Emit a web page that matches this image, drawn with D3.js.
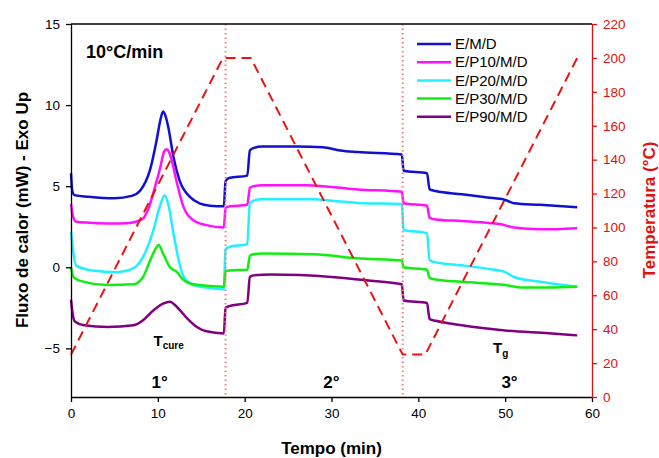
<!DOCTYPE html>
<html>
<head>
<meta charset="utf-8">
<script src="https://cdn.jsdelivr.net/npm/d3@7"></script>
<style>
    body { margin: 0; background: #fff; }
    text { font-family: "Liberation Sans", Arial, sans-serif; }
</style>
</head>
<body>
<svg id="chart" width="659" height="458"></svg>
<script>
// heat flow traces, [time (min), heat flow (mW)]
const emd = [[0, 5.8], [0.15, 4.7], [0.4, 4.45], [2, 4.35], [5, 4.25], [7, 4.4], [8, 4.75], [9.1, 6.0],
    [9.85, 7.8], [10.3, 9.1], [10.6, 9.6], [10.9, 9.3], [11.2, 8.65], [11.8, 6.8], [12.5, 5.36], [13.7, 4.34],
    [14.8, 3.94], [16, 3.8], [17.6, 3.76], [17.8, 5.3], [18.2, 5.5], [20.3, 5.65], [20.6, 7.2], [21, 7.35],
    [22, 7.45], [26, 7.45], [29, 7.4], [31, 7.2], [33, 7.1], [38.1, 6.95], [38.3, 5.95], [41, 5.8], [41.3, 4.8],
    [42, 4.7], [45, 4.5], [48, 4.3], [50, 4.15], [51, 3.95], [54, 3.85], [58.3, 3.7]];
const ep10 = [[0, 3.9], [0.2, 3.2], [0.6, 2.8], [3, 2.72], [5.7, 2.7], [7, 2.75], [8.3, 3.0], [9.1, 3.9],
    [9.7, 5.0], [10.3, 6.2], [10.7, 7.1], [11.0, 7.27], [11.3, 7.1], [11.6, 6.6], [12.2, 5.2], [12.9, 3.8],
    [14.1, 2.9], [15.6, 2.6], [17.6, 2.45], [17.8, 3.65], [18.2, 3.75], [20.3, 3.85], [20.6, 4.9], [21, 5.0],
    [22, 5.05], [27, 5.05], [30, 4.95], [33, 4.8], [38.1, 4.65], [38.3, 3.95], [41, 3.8], [41.3, 3.05],
    [42, 2.95], [45, 2.85], [49.5, 2.65], [51, 2.45], [54, 2.35], [56, 2.35], [58.3, 2.4]];
const ep20 = [[0, 2.2], [0.2, 1.2], [0.6, 0.1], [2.5, -0.2], [5.3, -0.3], [7.2, -0.06], [8.3, 0.64], [9.0, 1.5],
    [9.5, 2.3], [10.2, 3.7], [10.8, 4.44], [11.2, 3.9], [11.8, 2.1], [12.4, 0.43], [13.0, -0.6], [14.1, -1.1],
    [15.5, -1.25], [17.6, -1.35], [17.8, 1.1], [18.2, 1.25], [20.3, 1.42], [20.6, 3.95], [21, 4.1], [22, 4.2],
    [28, 4.2], [30, 4.1], [33, 3.97], [38.1, 3.9], [38.3, 2.3], [41, 2.1], [41.3, 0.45], [42, 0.3], [45, 0.12],
    [48, -0.1], [50, -0.3], [51, -0.6], [54, -0.9], [58.3, -1.2]];
const ep30 = [[0, 0.0], [0.2, -0.5], [0.5, -0.7], [1.5, -0.9], [4.2, -1.1], [7.2, -1.05], [8.3, -0.6],
    [9.1, 0.4], [9.7, 1.1], [10.1, 1.38], [10.6, 0.85], [11.4, 0.0], [12.2, -0.3], [12.8, -0.7], [14.1, -1.05],
    [17.6, -1.2], [17.8, -0.25], [18.2, -0.2], [20.3, -0.15], [20.6, 0.7], [21, 0.8], [22, 0.85], [28, 0.8],
    [33, 0.55], [38.1, 0.42], [38.3, 0.0], [41, -0.15], [41.3, -0.65], [42, -0.75], [45, -0.9], [50, -1.1],
    [52, -1.25], [55, -1.25], [58.3, -1.2]];
const ep90 = [[0, -2.0], [0.2, -2.9], [0.45, -3.35], [1.5, -3.58], [4.2, -3.68], [7.2, -3.58], [8.3, -3.27],
    [9.5, -2.65], [10.6, -2.24], [11.4, -2.12], [12.2, -2.45], [13.4, -3.16], [14.5, -3.68], [15.6, -3.95],
    [17.6, -4.08], [17.8, -2.5], [18.2, -2.4], [20.3, -2.2], [20.6, -0.6], [21, -0.5], [23, -0.45], [30, -0.6],
    [34, -0.8], [38.1, -1.05], [38.3, -2.05], [41, -2.2], [41.3, -3.2], [42, -3.3], [45, -3.58], [50, -3.9],
    [55, -4.07], [58.3, -4.2]];

const seriesNames = ["E/M/D", "E/P10/M/D", "E/P20/M/D", "E/P30/M/D", "E/P90/M/D"];
const seriesData = [emd, ep10, ep20, ep30, ep90];
const seriesColors = ["#1010d0", "#ff10ff", "#20f0ff", "#10ee10", "#800080"];

// temperature program (right axis)
const tempTimes = [0, 17.5, 20.7, 38.2, 40.8, 58.3];
const tempValues = [25, 200, 200, 25, 25, 200];

// stage boundaries
const stageLines = [17.8, 38.2];
const stageLabels = [["1°", 10.2], ["2°", 30.0], ["3°", 50.5]];

const xTicks = [0, 10, 20, 30, 40, 50, 60];
const yTicks = [-5, 0, 5, 10, 15];
const tTicks = d3.range(0, 221, 20);

const margin = { top: 24, right: 67, bottom: 61, left: 71 };
const width = 659, height = 458;

const svg = d3.select("#chart");

const x = d3.scaleLinear().domain([0, 60]).range([margin.left, width - margin.right]);
const y = d3.scaleLinear().domain([-8, 15]).range([height - margin.bottom, margin.top]);
const yT = d3.scaleLinear().domain([0, 220]).range([height - margin.bottom, margin.top]);

// DSC traces
const line = d3.line()
    .x(function (d) { return x(d[0]); })
    .y(function (d) { return y(d[1]); })
    .curve(d3.curveMonotoneX);

svg.append("g").selectAll("path")
    .data(seriesData)
    .enter().append("path")
    .attr("d", line)
    .attr("fill", "none")
    .attr("stroke", function (d, i) { return seriesColors[i]; })
    .attr("stroke-width", 2.5)
    .attr("stroke-linejoin", "round");

// dotted stage separators
svg.append("g").selectAll("line")
    .data(stageLines)
    .enter().append("line")
    .attr("x1", function (d) { return x(d); })
    .attr("x2", function (d) { return x(d); })
    .attr("y1", margin.top)
    .attr("y2", height - margin.bottom)
    .attr("stroke", "#f08080")
    .attr("stroke-width", 2)
    .attr("stroke-dasharray", "1.5,3");

// temperature program
const tLine = d3.line()
    .x(function (d) { return x(d[0]); })
    .y(function (d) { return yT(d[1]); });

svg.append("path")
    .datum(tempTimes.map(function (t, i) { return [t, tempValues[i]]; }))
    .attr("d", tLine)
    .attr("fill", "none")
    .attr("stroke", "#ee1111")
    .attr("stroke-width", 2)
    .attr("stroke-dasharray", "10,6");

// axes
const fontSize = "13.5px";

const xAxis = svg.append("g")
    .attr("transform", "translate(0," + (height - margin.bottom) + ")")
    .call(d3.axisBottom(x).tickValues(xTicks).tickSize(5).tickSizeOuter(0).tickPadding(6));

const yAxis = svg.append("g")
    .attr("transform", "translate(" + margin.left + ",0)")
    .call(d3.axisLeft(y).tickValues(yTicks).tickSize(5).tickSizeOuter(0).tickPadding(6));

const tAxis = svg.append("g")
    .attr("transform", "translate(" + (width - margin.right) + ",0)")
    .call(d3.axisRight(yT).tickValues(tTicks).tickSize(5).tickSizeOuter(0).tickPadding(6));

[xAxis, yAxis, tAxis].forEach(function (g) {
    g.selectAll("text").style("font-size", fontSize).attr("font-family", null);
    g.attr("font-family", null);
});
xAxis.selectAll("path, line").attr("stroke", "#000").attr("stroke-width", 1.3);
yAxis.selectAll("path, line").attr("stroke", "#000").attr("stroke-width", 1.3);
tAxis.selectAll("path, line").attr("stroke", "#e01010").attr("stroke-width", 1.3);
tAxis.selectAll("text").attr("fill", "#e01010");
xAxis.selectAll("text").attr("fill", "#000");
yAxis.selectAll("text").attr("fill", "#000");

// top frame
svg.append("line")
    .attr("x1", margin.left).attr("x2", width - margin.right)
    .attr("y1", margin.top).attr("y2", margin.top)
    .attr("stroke", "#000").attr("stroke-width", 1.3);

// axis titles
svg.append("text")
    .attr("x", (margin.left + width - margin.right) / 2)
    .attr("y", 454)
    .attr("text-anchor", "middle")
    .style("font-size", "17px").style("font-weight", "bold")
    .text("Tempo (min)");

svg.append("text")
    .attr("transform", "translate(28,210) rotate(-90)")
    .attr("text-anchor", "middle")
    .style("font-size", "17px").style("font-weight", "bold")
    .text("Fluxo de calor (mW) - Exo Up");

svg.append("text")
    .attr("transform", "translate(655,210) rotate(-90)")
    .attr("text-anchor", "middle")
    .attr("fill", "#e01010")
    .style("font-size", "17px").style("font-weight", "bold")
    .text("Temperatura (°C)");

// rate label
svg.append("text")
    .attr("x", 86).attr("y", 58)
    .style("font-size", "18px").style("font-weight", "bold")
    .text("10°C/min");

// stage labels
svg.append("g").selectAll("text")
    .data(stageLabels)
    .enter().append("text")
    .attr("x", function (d) { return x(d[1]); })
    .attr("y", 388)
    .attr("text-anchor", "middle")
    .style("font-size", "17px").style("font-weight", "bold")
    .text(function (d) { return d[0]; });

// T_cure and T_g
const tcure = svg.append("text").attr("x", x(9.5)).attr("y", 346)
    .style("font-size", "15px").style("font-weight", "bold");
tcure.append("tspan").text("T");
tcure.append("tspan").attr("dy", 3).style("font-size", "10px").text("cure");

const tg = svg.append("text").attr("x", x(48.6)).attr("y", 353)
    .style("font-size", "15px").style("font-weight", "bold");
tg.append("tspan").text("T");
tg.append("tspan").attr("dy", 4).style("font-size", "10px").text("g");

// legend
const legend = svg.append("g").selectAll("g")
    .data(seriesNames)
    .enter().append("g")
    .attr("transform", function (d, i) { return "translate(417," + (44 + i * 18.2) + ")"; });

legend.append("line")
    .attr("x1", 0).attr("x2", 34)
    .attr("stroke", function (d, i) { return seriesColors[i]; })
    .attr("stroke-width", 2.5);

legend.append("text")
    .attr("x", 38).attr("dy", "0.35em")
    .style("font-size", "15px")
    .text(function (d) { return d; });
</script>
</body>
</html>
